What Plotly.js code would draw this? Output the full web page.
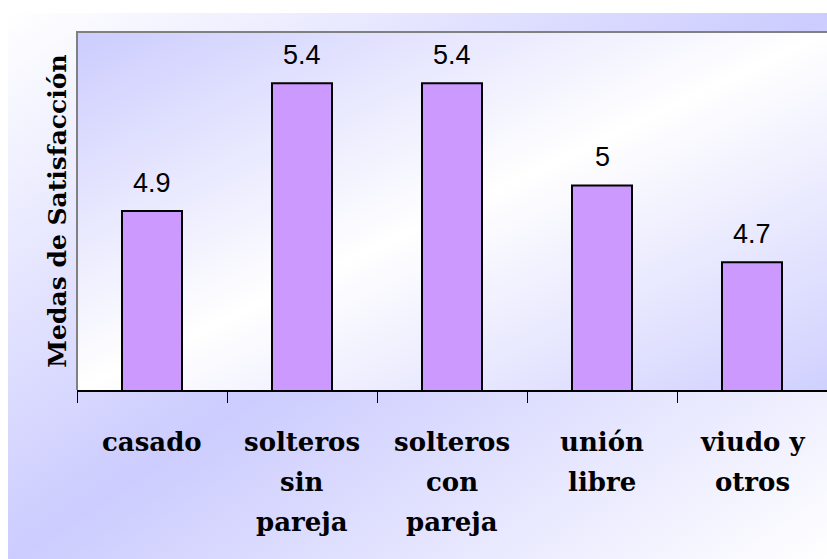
<!DOCTYPE html>
<html>
<head>
<meta charset="utf-8">
<script src="https://cdn.plot.ly/plotly-3.0.1.min.js"></script>
<style>
html,body{margin:0;padding:0;background:#fff;}
#chart{width:827px;height:559px;}
</style>
</head>
<body>
<div id="chart"></div>
<script>
// ---- data ----
var categories = ["casado", "solteros sin pareja", "solteros con pareja", "unión libre", "viudo y otros"];
var tickLabelLines = [["casado"], ["solteros", "sin", "pareja"], ["solteros", "con", "pareja"], ["unión", "libre"], ["viudo y", "otros"]];
var values = [4.9, 5.4, 5.4, 5.0, 4.7];
var valueLabels = ["4.9", "5.4", "5.4", "5", "4.7"];
var yTitle = "Medas de Satisfacción";

// ---- gradient backgrounds via canvas ----
function gradImage(w, h, stops) {
  var c = document.createElement('canvas');
  c.width = w; c.height = h;
  var ctx = c.getContext('2d');
  var cx = w / 2, cy = h / 2;
  var k = (w * h) / (w * w + h * h);
  var g = ctx.createLinearGradient(cx - h * k, cy - w * k, cx + h * k, cy + w * k);
  stops.forEach(function (s) { g.addColorStop(s[0], s[1]); });
  ctx.fillStyle = g;
  ctx.fillRect(0, 0, w, h);
  return c.toDataURL('image/png');
}

var L = 77, T = 32, PW = 750, PH = 358;
var W = 827, H = 559;
function px(x) { return (x - L) / PW; }
function py(y) { return (T + PH - y) / PH; }

var outerImg = gradImage(819, 546, [[0, '#ffffff'], [0.5, '#ccccff'], [1, '#ffffff']]);
var plotImg = gradImage(750, 358, [[0, '#ccccff'], [0.5, '#ffffff'], [1, '#d0d0ff']]);

var annotations = [];
// value labels
categories.forEach(function (c, i) {
  annotations.push({
    x: c, y: values[i], xref: 'x', yref: 'y',
    text: valueLabels[i], showarrow: false,
    yanchor: 'bottom', yshift: 11,
    font: {family: 'Liberation Sans, Arial, sans-serif', size: 27, color: '#000'}
  });
});
// category labels (multi-line, 40px spacing)
categories.forEach(function (c, i) {
  tickLabelLines[i].forEach(function (line, j) {
    annotations.push({
      x: c, y: 0, xref: 'x', yref: 'paper',
      text: '<b>' + line + '</b>', showarrow: false,
      yanchor: 'top', yshift: -35 - 40 * j,
      font: {family: 'DejaVu Serif', size: 26, color: '#000'}
    });
  });
});

var trace = {
  type: 'bar',
  x: categories,
  y: values,
  width: 0.4,
  marker: {color: '#cc99ff', line: {color: '#000', width: 2}},
  hoverinfo: 'none'
};

var layout = {
  width: W, height: H,
  margin: {l: L, r: W - L - PW, t: T, b: H - T - PH, pad: 0},
  paper_bgcolor: '#ffffff',
  plot_bgcolor: 'rgba(0,0,0,0)',
  showlegend: false,
  xaxis: {
    type: 'category',
    range: [-0.5, 4.5],
    showticklabels: false,
    ticks: 'outside', ticklen: 11, tickwidth: 1, tickcolor: '#000',
    tickson: 'boundaries',
    showline: true, linecolor: '#000', linewidth: 2,
    showgrid: false, zeroline: false, fixedrange: true
  },
  yaxis: {
    range: [4.2, 5.6],
    showticklabels: false, ticks: '',
    showgrid: false, zeroline: false, showline: false,
    fixedrange: true,
    title: {text: '<b>' + yTitle + '</b>', standoff: 2,
      font: {family: 'DejaVu Serif', size: 25, color: '#000'}}
  },
  images: [
    {source: outerImg, xref: 'paper', yref: 'paper', x: px(8), y: py(13),
     sizex: px(827) - px(8), sizey: py(13) - py(559), sizing: 'stretch',
     xanchor: 'left', yanchor: 'top', layer: 'below'},
    {source: plotImg, xref: 'paper', yref: 'paper', x: 0, y: 1,
     sizex: 1, sizey: 1, sizing: 'stretch',
     xanchor: 'left', yanchor: 'top', layer: 'below'}
  ],
  shapes: [
    {type: 'path', xref: 'paper', yref: 'paper',
     path: 'M 0 0 L 0 1 L 1.01 1',
     line: {color: '#808080', width: 2}, layer: 'above'}
  ],
  annotations: annotations
};

Plotly.newPlot('chart', [trace], layout, {displayModeBar: false, staticPlot: true});
</script>
</body>
</html>
